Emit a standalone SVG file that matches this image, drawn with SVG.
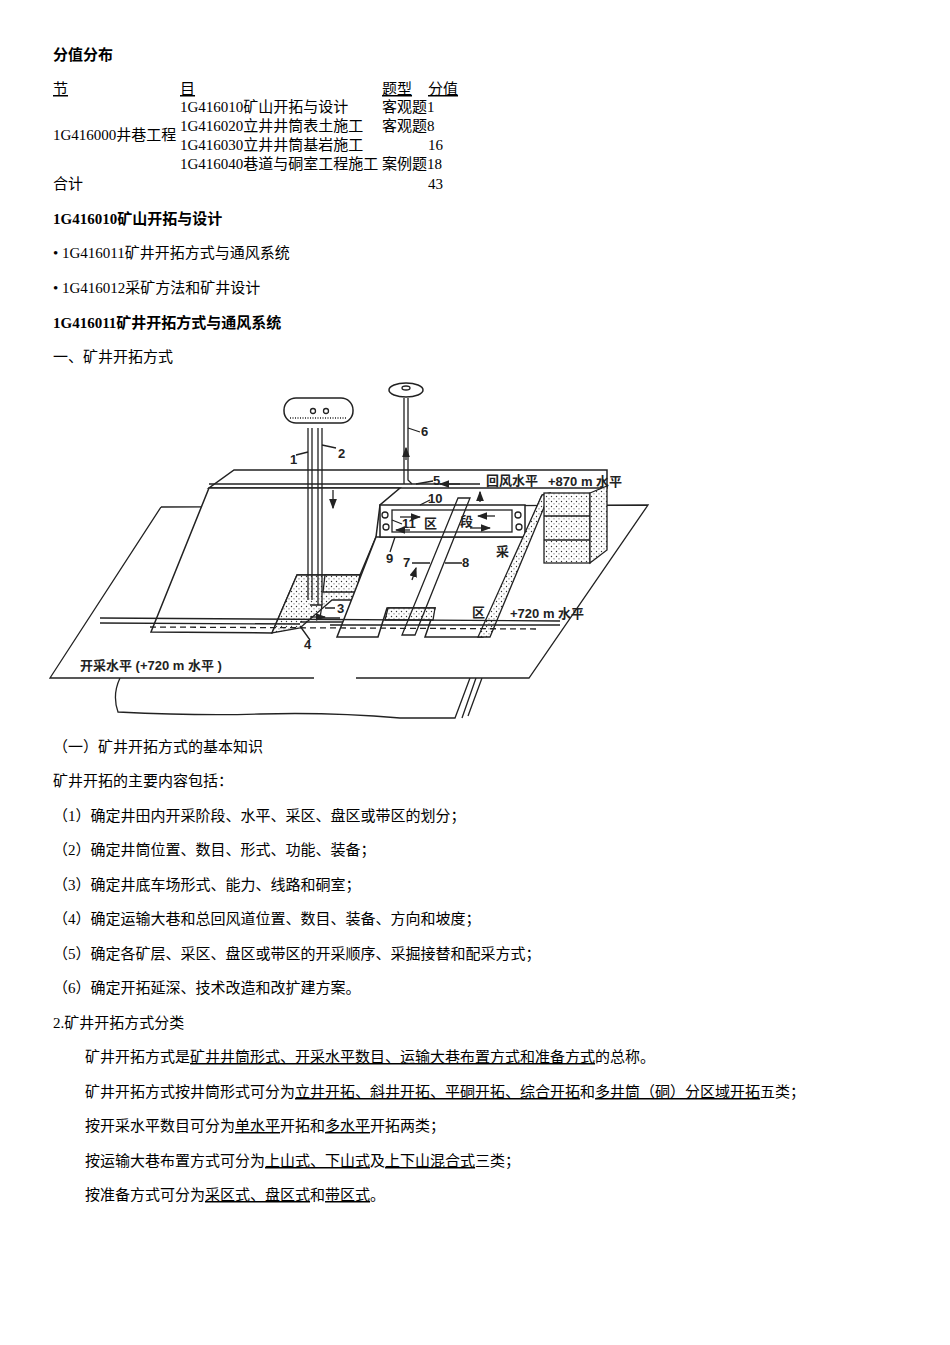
<svg xmlns="http://www.w3.org/2000/svg" width="950" height="1345" viewBox="0 0 950 1345">
<style>
.t{font-family:"Liberation Serif","Noto Sans CJK SC",serif;font-size:15px;fill:#000}
.b{font-weight:bold}
.u{text-decoration:underline}
.l{font-family:"Liberation Sans","Noto Sans CJK SC",sans-serif;font-size:13px;font-weight:bold;fill:#222}
.s{fill:#fff;stroke:#222;stroke-width:1.5}
.n{fill:none;stroke:#222;stroke-width:1.3}
.d{fill:url(#dots);stroke:#222;stroke-width:1.3}
</style>
<defs>
<pattern id="dots" width="5" height="5" patternUnits="userSpaceOnUse"><rect width="5" height="5" fill="#fff"/><circle cx="1.5" cy="1.5" r="0.7" fill="#333"/><circle cx="4" cy="3.8" r="0.6" fill="#555"/></pattern>
<marker id="ar" markerWidth="8" markerHeight="6" refX="7" refY="3" orient="auto"><path d="M0,0 L8,3 L0,6 z" fill="#222"/></marker>
</defs>
<rect width="950" height="1345" fill="#fff"/>
<g id="text">
<text class="t b" x="53" y="60">分值分布</text>
<text class="t u" x="53" y="94">节</text>
<text class="t u" x="180" y="94">目</text>
<text class="t u" x="382" y="94">题型</text>
<text class="t u" x="428" y="94">分值</text>
<text class="t" x="180" y="112">1G416010矿山开拓与设计</text>
<text class="t" x="382" y="112">客观题1</text>
<text class="t" x="180" y="131">1G416020立井井筒表土施工</text>
<text class="t" x="382" y="131">客观题8</text>
<text class="t" x="53" y="140">1G416000井巷工程</text>
<text class="t" x="180" y="150">1G416030立井井筒基岩施工</text>
<text class="t" x="428" y="150">16</text>
<text class="t" x="180" y="169">1G416040巷道与硐室工程施工</text>
<text class="t" x="382" y="169">案例题18</text>
<text class="t" x="53" y="189">合计</text>
<text class="t" x="428" y="189">43</text>
<text class="t b" x="53" y="224">1G416010矿山开拓与设计</text>
<text class="t" x="53" y="258">• 1G416011矿井开拓方式与通风系统</text>
<text class="t" x="53" y="293">• 1G416012采矿方法和矿井设计</text>
<text class="t b" x="53" y="328">1G416011矿井开拓方式与通风系统</text>
<text class="t" x="53" y="362">一、矿井开拓方式</text>
<text class="t" x="53" y="752">（一）矿井开拓方式的基本知识</text>
<text class="t" x="53" y="786">矿井开拓的主要内容包括：</text>
<text class="t" x="53" y="821">（1）确定井田内开采阶段、水平、采区、盘区或带区的划分；</text>
<text class="t" x="53" y="855">（2）确定井筒位置、数目、形式、功能、装备；</text>
<text class="t" x="53" y="890">（3）确定井底车场形式、能力、线路和硐室；</text>
<text class="t" x="53" y="924">（4）确定运输大巷和总回风道位置、数目、装备、方向和坡度；</text>
<text class="t" x="53" y="959">（5）确定各矿层、采区、盘区或带区的开采顺序、采掘接替和配采方式；</text>
<text class="t" x="53" y="993">（6）确定开拓延深、技术改造和改扩建方案。</text>
<text class="t" x="53" y="1028">2.矿井开拓方式分类</text>
<text class="t" x="85" y="1062">矿井开拓方式是<tspan class="u">矿井井筒形式、开采水平数目、运输大巷布置方式和准备方式</tspan>的总称。</text>
<text class="t" x="85" y="1097">矿井开拓方式按井筒形式可分为<tspan class="u">立井开拓、斜井开拓、平硐开拓、综合开拓</tspan>和<tspan class="u">多井筒（硐）分区域开拓</tspan>五类；</text>
<text class="t" x="85" y="1131">按开采水平数目可分为<tspan class="u">单水平</tspan>开拓和<tspan class="u">多水平</tspan>开拓两类；</text>
<text class="t" x="85" y="1166">按运输大巷布置方式可分为<tspan class="u">上山式、下山式</tspan>及<tspan class="u">上下山混合式</tspan>三类；</text>
<text class="t" x="85" y="1200">按准备方式可分为<tspan class="u">采区式、盘区式</tspan>和<tspan class="u">带区式</tspan>。</text>
</g>
<g id="diagram">
<path class="n" d="M120,678 Q112,695 118,712 Q200,716 260,714 Q330,712 400,718 L455,718 L470,678"/>
<path class="n" d="M462,718 L476,678 M468,716 L482,678"/>
<polygon points="161,507 648,505 529,678 50,678" fill="#fff" stroke="none"/>
<path class="n" d="M161,507 L648,505 L529,678 L356,678 M314,678 L50,678 L161,507"/>
<path class="s" d="M234,470 L607,470 L607,488 L209,488 Z"/>
<path class="s" d="M209,488 L151,632 L272,633 L297,575 L360,575 L376,537 L380,505 L400,488 Z"/>
<line class="n" x1="209" y1="484" x2="480" y2="484"/>
<polygon class="d" points="297,575 360,575 355,600 332,600 300,628 272,633"/>
<polygon class="d" points="325,575 360,575 356,592 323,592"/>
<path class="n" d="M310,605 L322,605 L320,618 L340,618 M300,622 L345,622"/>
<path class="s" d="M376,537 L525,537 L542,495 L483,637 L425,637 L435,608 L387,608 L378,637 L337,637 Z"/>
<rect class="s" x="380" y="505" width="145" height="32"/>
<rect class="n" x="392" y="510" width="120" height="22"/>
<circle class="n" cx="385" cy="515" r="3"/><circle class="n" cx="386" cy="527" r="3"/><circle class="n" cx="518" cy="515" r="3"/><circle class="n" cx="519" cy="527" r="3"/>
<polygon class="d" points="388,608 435,608 433,620 385,620"/>
<polygon class="d" points="542,495 550,493 490,637 478,637"/>
<rect class="d" x="544" y="493" width="46" height="70"/>
<line class="n" x1="544" y1="516" x2="590" y2="516"/>
<line class="n" x1="544" y1="540" x2="590" y2="540"/>
<polygon class="d" points="590,493 607,486 607,550 590,563"/>
<path class="n" d="M100,618 L560,621 M100,623 L300,624 M330,625 L560,625"/>
<path class="n" stroke-dasharray="6,4" d="M150,627 L540,629"/>
<path class="n" d="M458,498 L470,498 L415,635 L402,635 Z"/>
<path class="n" d="M308,428 L308,600 M312,428 L312,600 M318,428 L318,605 M322,428 L322,605"/>
<rect class="s" x="284" y="398" width="69" height="25" rx="12"/>
<path class="n" d="M290,418 L347,418" stroke-dasharray="1,1.5"/>
<circle class="n" cx="313" cy="411" r="2.5"/><circle class="n" cx="326" cy="411" r="2.5"/>
<path class="n" d="M404,398 L404,484 M408,398 L408,480 L412,484"/>
<ellipse class="s" cx="406" cy="390" rx="17" ry="7"/>
<ellipse class="n" cx="406" cy="388" rx="4" ry="2"/>
</g>
<g id="connectors">
<line class="n" x1="406" y1="460" x2="406" y2="448" marker-end="url(#ar)"/>
<line class="n" x1="460" y1="484" x2="440" y2="484" marker-end="url(#ar)"/>
<line class="n" x1="333" y1="490" x2="333" y2="508" marker-end="url(#ar)"/>
<line class="n" x1="480" y1="502" x2="480" y2="492" marker-end="url(#ar)"/>
<line class="n" x1="310" y1="617" x2="325" y2="617" marker-end="url(#ar)"/>
<line class="n" x1="412" y1="580" x2="416" y2="568" marker-end="url(#ar)"/>
<line class="n" x1="400" y1="517" x2="420" y2="517" marker-end="url(#ar)"/>
<line class="n" x1="495" y1="516" x2="478" y2="516" marker-end="url(#ar)"/>
<line class="n" x1="470" y1="528" x2="490" y2="528" marker-end="url(#ar)"/>
<line class="n" x1="410" y1="530" x2="396" y2="530" marker-end="url(#ar)"/>
<path class="n" d="M296,455 L308,452 M336,448 L322,445 M420,432 L408,428 M433,481 L416,484 M430,500 L420,505 M402,524 L392,520 M390,552 L395,537 M412,563 L430,563 M445,563 L462,563 M335,608 L325,608 M310,640 L300,626"/>
</g>
<g id="labels">
<text class="l" x="290" y="464">1</text>
<text class="l" x="338" y="458">2</text>
<text class="l" x="421" y="436">6</text>
<text class="l" x="433" y="485">5</text>
<text class="l" x="486" y="485">回风水平</text>
<text class="l" x="548" y="486">+870 m 水平</text>
<text class="l" x="428" y="503">10</text>
<text class="l" x="402" y="528">11</text>
<text class="l" x="424" y="528">区</text>
<text class="l" x="460" y="526">段</text>
<text class="l" x="386" y="563">9</text>
<text class="l" x="403" y="567">7</text>
<text class="l" x="462" y="567">8</text>
<text class="l" x="496" y="556">采</text>
<text class="l" x="337" y="613">3</text>
<text class="l" x="304" y="649">4</text>
<text class="l" x="472" y="617">区</text>
<text class="l" x="510" y="618">+720 m 水平</text>
<text class="l" x="80" y="670">开采水平 (+720 m 水平 )</text>
</g>
</svg>
